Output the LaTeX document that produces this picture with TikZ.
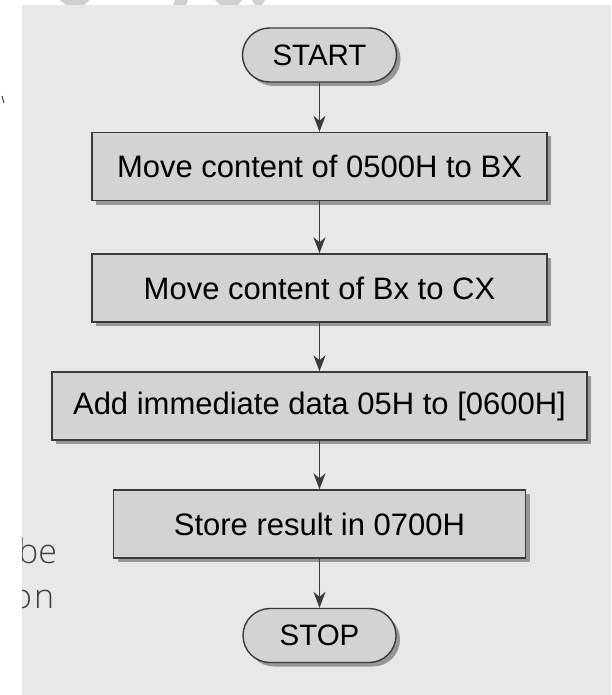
\documentclass[tikz,border=0pt]{standalone}
\usepackage{fontspec}
\setmainfont{Liberation Sans}
\newfontfamily\sidefont{Open Sans Light}
\usetikzlibrary{arrows.meta,shadows}
\definecolor{panelgray}{HTML}{E8E8E8}
\definecolor{boxfill}{HTML}{D3D3D3}
\definecolor{edgegray}{HTML}{3A3A3A}
\definecolor{wmgray}{HTML}{CFCFCF}
\tikzset{
  procbox/.style={draw=edgegray, line width=1.4pt, fill=boxfill, inner sep=0pt,
    minimum height=68pt, font=\fontsize{31}{36}\selectfont,
    drop shadow={shadow xshift=4pt, shadow yshift=-4pt, fill=black, opacity=0.35}},
  termbox/.style={procbox, minimum width=154pt, minimum height=54pt,
    rounded corners=27pt, font=\fontsize{29.5}{34}\selectfont},
  arr/.style={draw=edgegray, line width=1.3pt,
    -{Stealth[length=16pt, width=12pt, inset=5pt]}},
  sidetext/.style={anchor=base west, text=black!75, inner sep=0pt,
    font=\sidefont\fontsize{34}{40}\selectfont}
}
\begin{document}
\begin{tikzpicture}[x=1pt,y=-1pt]
\useasboundingbox (0,0) rectangle (611,695);
\fill[white] (0,0) rectangle (611,695);
\fill[panelgray] (22,5) rectangle (611,695);
% faint watermark traces at the top
\fill[wmgray] (60,0) -- (90,0) -- (84,5) -- (66,5) -- cycle;
\fill[wmgray] (175,0) -- (188,0) -- (186,5) -- (173,5) -- cycle;
\fill[wmgray] (215,0) -- (242,0) -- (238,5) -- (220,5) -- cycle;
\fill[wmgray] (252,0) -- (265,0) -- (262,5) -- (255,5) -- cycle;
% stray mark at the left
\draw[edgegray, line width=1pt] (2,96) -- (4,103);
% clipped side text
\begin{scope}
\clip (22,5) rectangle (611,695);
\node[sidetext] (sidea) at (18,563) {be};
\node[sidetext] (sideb) at (12,608) {\addfontfeature{LetterSpace=6}on};
\end{scope}
% flowchart
\node[termbox] (start) at (319.5,55) {START};
\node[procbox, minimum width=455pt] (b1) at (319.5,166.5) {Move content of 0500H to BX};
\node[procbox, minimum width=455pt] (b2) at (319.5,288) {Move content of Bx to CX};
\node[procbox, minimum width=535pt] (b3) at (319.5,406) {Add immediate data 05H to [0600H]};
\node[procbox, minimum width=412pt] (b4) at (319.5,524) {Store result in 0700H};
\node[termbox, minimum width=153pt] (stop) at (319.5,635.5) {STOP};
\draw[arr] (start) -- (b1);
\draw[arr] (b1) -- (b2);
\draw[arr] (b2) -- (b3);
\draw[arr] (b3) -- (b4);
\draw[arr] (b4) -- (stop);
\end{tikzpicture}
\end{document}
